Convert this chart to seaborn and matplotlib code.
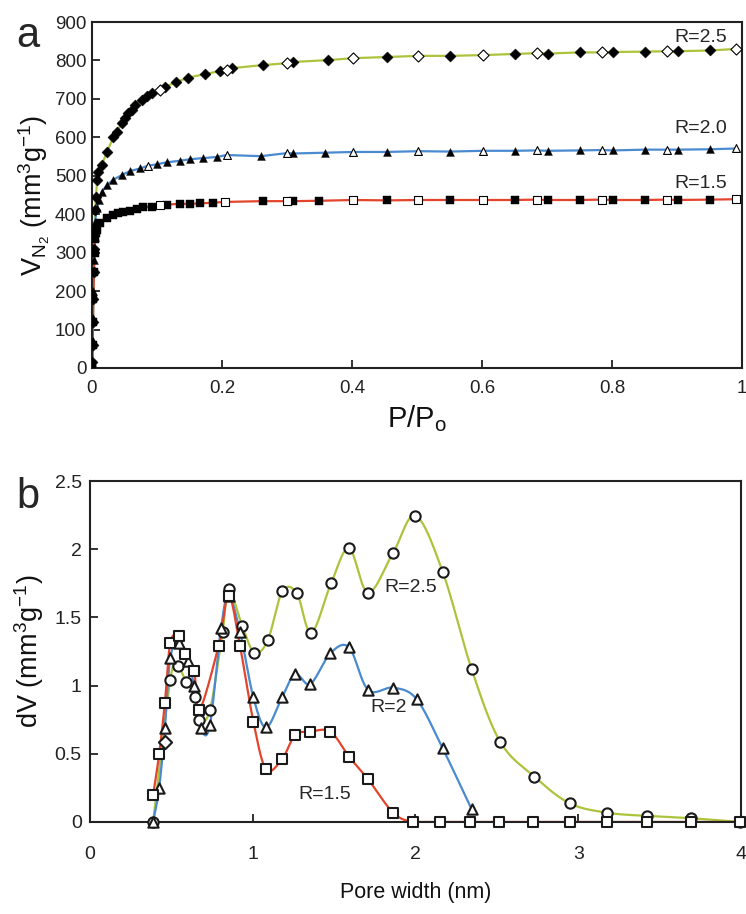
import numpy as np
import pandas as pd
import seaborn as sns
import matplotlib.pyplot as plt
from matplotlib.ticker import FuncFormatter

sns.set_theme(style="ticks")
plt.rcParams["font.family"] = ["Liberation Sans", "DejaVu Sans"]
plt.rcParams["mathtext.default"] = "regular"

# ---------------- (a) N2 isotherms ----------------
# R = 2.5 : adsorption (filled diamonds) and desorption (open diamonds)
r25_ads_p = [0.0005, 0.001, 0.0015, 0.002, 0.0025, 0.003, 0.004, 0.005, 0.006,
             0.008, 0.010, 0.015, 0.023, 0.033, 0.038, 0.046, 0.051, 0.055,
             0.061, 0.066, 0.077, 0.084, 0.092, 0.112, 0.130, 0.148, 0.174,
             0.197, 0.215, 0.263, 0.309, 0.363, 0.454, 0.551, 0.651, 0.702,
             0.751, 0.802, 0.851, 0.901, 0.951]
r25_ads_v = [15, 60, 120, 180, 250, 310, 360, 410, 445,
             489, 510, 528, 562, 601, 614, 637, 650, 663,
             671, 684, 697, 708, 715, 731, 744, 755, 765,
             772, 780, 788, 796, 801, 809, 812, 817, 818,
             821, 822, 823, 824, 826]
r25_des_p = [0.105, 0.207, 0.300, 0.402, 0.502, 0.602, 0.684, 0.784, 0.885, 0.991]
r25_des_v = [723, 775, 793, 806, 812, 814, 819, 821, 824, 830]

# R = 2.0 : adsorption (filled triangles) and desorption (open triangles)
r20_ads_p = [0.0005, 0.001, 0.0015, 0.002, 0.003, 0.004, 0.005, 0.007, 0.011,
             0.015, 0.023, 0.032, 0.046, 0.058, 0.074, 0.100, 0.115, 0.135,
             0.151, 0.171, 0.192, 0.260, 0.310, 0.358, 0.454, 0.551, 0.651,
             0.702, 0.751, 0.802, 0.851, 0.901, 0.951]
r20_ads_v = [15, 70, 130, 200, 280, 340, 380, 416, 437,
             458, 476, 489, 502, 512, 519, 530, 535, 539,
             543, 546, 549, 551, 558, 560, 562, 563, 565,
             565, 566, 566, 568, 568, 569]
r20_des_p = [0.086, 0.207, 0.300, 0.402, 0.502, 0.602, 0.684, 0.784, 0.885, 0.991]
r20_des_v = [526, 554, 559, 562, 564, 565, 566, 567, 568, 571]

# R = 1.5 : adsorption (filled squares) and desorption (open squares)
r15_ads_p = [0.0005, 0.001, 0.0015, 0.002, 0.003, 0.004, 0.005, 0.006, 0.007,
             0.012, 0.023, 0.033, 0.040, 0.048, 0.058, 0.069, 0.079, 0.092,
             0.115, 0.135, 0.151, 0.166, 0.186, 0.263, 0.310, 0.350, 0.454,
             0.551, 0.651, 0.702, 0.751, 0.802, 0.851, 0.901, 0.951]
r15_ads_v = [10, 60, 120, 180, 250, 300, 335, 350, 359,
             377, 390, 398, 403, 406, 409, 413, 418, 420,
             425, 427, 427, 428, 430, 434, 434, 435, 436,
             437, 437, 437, 437, 437, 437, 437, 438]
r15_des_p = [0.105, 0.205, 0.300, 0.402, 0.502, 0.602, 0.684, 0.784, 0.885, 0.991]
r15_des_v = [423, 432, 434, 437, 437, 437, 438, 438, 438, 439]

# ---------------- (b) pore size distributions ----------------
w25 = [0.388, 0.493, 0.538, 0.590, 0.647, 0.672, 0.737, 0.815, 0.852, 0.935,
       1.010, 1.093, 1.181, 1.271, 1.360, 1.483, 1.592, 1.709, 1.863, 2.000,
       2.167, 2.345, 2.520, 2.731, 2.947, 3.177, 3.424, 3.695, 3.995]
dv25 = [0.0, 1.04, 1.144, 1.03, 0.919, 0.748, 0.821, 1.395, 1.706, 1.44,
        1.241, 1.334, 1.69, 1.677, 1.388, 1.755, 2.007, 1.681, 1.975, 2.246,
        1.835, 1.12, 0.589, 0.332, 0.137, 0.068, 0.044, 0.027, 0.0]
w25_extra = [0.46]
dv25_extra = [0.59]

w20 = [0.388, 0.425, 0.460, 0.493, 0.544, 0.600, 0.640, 0.682, 0.737, 0.805,
       0.852, 0.922, 1.004, 1.082, 1.180, 1.260, 1.354, 1.477, 1.592, 1.709,
       1.863, 2.007, 2.167, 2.345]
dv20 = [0.0, 0.247, 0.687, 1.20, 1.315, 1.18, 1.0, 0.687, 0.711, 1.42,
        1.66, 1.395, 0.914, 0.694, 0.914, 1.085, 1.012, 1.237, 1.28, 0.968,
        0.985, 0.90, 0.54, 0.093]

w15 = [0.388, 0.425, 0.460, 0.493, 0.544, 0.583, 0.640, 0.672, 0.790, 0.852,
       0.922, 1.004, 1.082, 1.180, 1.260, 1.354, 1.477, 1.592, 1.709, 1.863,
       1.986, 2.150, 2.335, 2.516, 2.725, 2.947, 3.177, 3.420, 3.690, 3.995]
dv15 = [0.198, 0.496, 0.87, 1.31, 1.366, 1.23, 1.11, 0.82, 1.29, 1.66,
        1.29, 0.735, 0.386, 0.46, 0.636, 0.662, 0.662, 0.479, 0.313, 0.068,
        0.0, 0.0, 0.0, 0.0, 0.0, 0.0, 0.0, 0.0, 0.0, 0.0]

GREEN = "#abc43c"
BLUE = "#4a8ad0"
RED = "#e3452c"
EDGE = "#1a1a1a"


def smooth_curve(x, y, xspan, yspan, alpha=0.0, n=24):
    """Catmull-Rom curve through the given points (alpha=0: uniform)."""
    P = np.column_stack([np.asarray(x, float) / xspan, np.asarray(y, float) / yspan])
    P = np.vstack([2 * P[0] - P[1], P, 2 * P[-1] - P[-2]])
    out = []
    for i in range(1, len(P) - 2):
        p0, p1, p2, p3 = P[i - 1], P[i], P[i + 1], P[i + 2]
        t0 = 0.0
        t1 = t0 + np.linalg.norm(p1 - p0) ** alpha + 1e-9
        t2 = t1 + np.linalg.norm(p2 - p1) ** alpha + 1e-9
        t3 = t2 + np.linalg.norm(p3 - p2) ** alpha + 1e-9
        t = np.linspace(t1, t2, n)[:, None]
        a1 = (t1 - t) / (t1 - t0) * p0 + (t - t0) / (t1 - t0) * p1
        a2 = (t2 - t) / (t2 - t1) * p1 + (t - t1) / (t2 - t1) * p2
        a3 = (t3 - t) / (t3 - t2) * p2 + (t - t2) / (t3 - t2) * p3
        b1 = (t2 - t) / (t2 - t0) * a1 + (t - t0) / (t2 - t0) * a2
        b2 = (t3 - t) / (t3 - t1) * a2 + (t - t1) / (t3 - t1) * a3
        c = (t2 - t) / (t2 - t1) * b1 + (t - t1) / (t2 - t1) * b2
        out.append(c if i == 1 else c[1:])
    C = np.vstack(out)
    return C[:, 0] * xspan, C[:, 1] * yspan


fig = plt.figure(figsize=(7.46, 9.14), dpi=100)
axa = fig.add_axes([0.1233, 0.5974, 0.8713, 0.3785])
axb = fig.add_axes([0.1206, 0.1007, 0.8727, 0.3730])

# ---- panel a ----
iso = [
    (r25_ads_p, r25_ads_v, r25_des_p, r25_des_v, GREEN, "D", 32),
    (r20_ads_p, r20_ads_v, r20_des_p, r20_des_v, BLUE, "^", 32),
    (r15_ads_p, r15_ads_v, r15_des_p, r15_des_v, RED, "s", 26),
]
for ap, av, dp, dv, col, mk, sz in iso:
    line = pd.DataFrame({"p": ap + dp, "v": av + dv}).sort_values("p")
    sns.lineplot(data=line, x="p", y="v", color=col, lw=1.6, ax=axa,
                 sort=False, estimator=None, zorder=2)
for ap, av, dp, dv, col, mk, sz in iso:
    sns.scatterplot(x=ap, y=av, marker=mk, s=sz, color="black",
                    edgecolor="black", linewidth=0.3, ax=axa, zorder=3)
    sns.scatterplot(x=dp, y=dv, marker=mk, s=sz, color="white",
                    edgecolor="black", linewidth=0.8, ax=axa, zorder=3)

axa.set_xlim(0, 1)
axa.set_ylim(0, 900)
axa.set_xticks([0, 0.2, 0.4, 0.6, 0.8, 1.0])
axa.set_yticks(range(0, 901, 100))
axa.xaxis.set_major_formatter(FuncFormatter(lambda v, _: f"{v:g}"))
axa.tick_params(axis="both", direction="in", length=6, width=1.3,
                labelsize=13.5, colors="#222222")
axa.tick_params(axis="x", pad=9)
axa.tick_params(axis="y", pad=4)
axa.set_xlabel("P/P$_{o}$", fontsize=21, labelpad=4, color="#111111")
axa.set_ylabel("V$_{N_2}$ (mm$^{3}$g$^{-1}$)", fontsize=19.5, labelpad=2,
               color="#111111")
axa.text(0.977, 861, "R=2.5", ha="right", va="center", fontsize=14)
axa.text(0.977, 624, "R=2.0", ha="right", va="center", fontsize=14)
axa.text(0.977, 481, "R=1.5", ha="right", va="center", fontsize=14)

# ---- panel b ----
psd = [
    (w25, dv25, GREEN, "o", 55),
    (w20, dv20, BLUE, "^", 55),
    (w15, dv15, RED, "s", 55),
]
for w, d, col, mk, sz in psd:
    cx, cy = smooth_curve(w, d, 4.0, 2.5 * 0.52)
    cy = np.clip(cy, 0, None)
    sns.lineplot(x=cx, y=cy, color=col, lw=1.6, ax=axb, sort=False,
                 estimator=None, zorder=2)
for w, d, col, mk, sz in psd:
    sns.scatterplot(x=w, y=d, marker=mk, s=sz, color="white",
                    edgecolor=EDGE, linewidth=1.5, ax=axb, zorder=3,
                    clip_on=False)
sns.scatterplot(x=w25_extra, y=dv25_extra, marker="D", s=45, color="white",
                edgecolor=EDGE, linewidth=1.5, ax=axb, zorder=3)

axb.set_xlim(0, 4)
axb.set_ylim(0, 2.5)
axb.set_xticks([0, 1, 2, 3, 4])
axb.set_yticks([0, 0.5, 1, 1.5, 2, 2.5])
axb.yaxis.set_major_formatter(FuncFormatter(lambda v, _: f"{v:g}"))
axb.tick_params(axis="both", direction="in", length=6, width=1.3,
                labelsize=14, colors="#222222")
axb.tick_params(axis="x", pad=17)
axb.tick_params(axis="y", pad=6)
axb.set_xlabel("Pore width (nm)", fontsize=15.5, labelpad=14, color="#111111")
axb.set_ylabel("dV (mm$^{3}$g$^{-1}$)", fontsize=19.5, labelpad=6,
               color="#111111")
axb.text(1.81, 1.72, "R=2.5", ha="left", va="center", fontsize=14)
axb.text(1.72, 0.84, "R=2", ha="left", va="center", fontsize=14)
axb.text(1.28, 0.20, "R=1.5", ha="left", va="center", fontsize=14)

for ax in (axa, axb):
    for sp in ax.spines.values():
        sp.set_visible(True)
        sp.set_linewidth(1.5)
        sp.set_color("#222222")

fig.text(0.022, 0.982, "a", fontsize=30, ha="left", va="top")
fig.text(0.022, 0.478, "b", fontsize=30, ha="left", va="top")

fig.savefig("out.png", dpi=100, facecolor="white")
